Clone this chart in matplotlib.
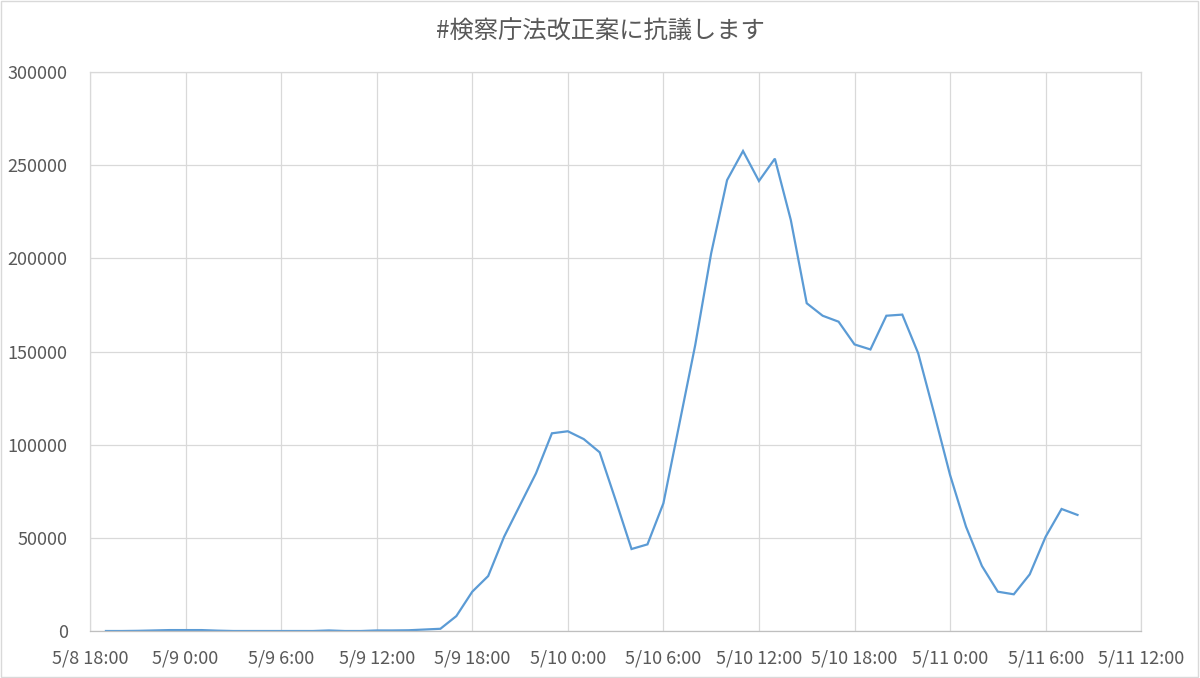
import pandas as pd
import matplotlib
matplotlib.use('Agg')
from matplotlib import pyplot as plt
import matplotlib.dates as mdates
from matplotlib.ticker import FuncFormatter, MultipleLocator
from matplotlib.patches import Rectangle

plt.rcParams['font.family'] = ['Noto Sans CJK JP', 'DejaVu Sans']

titulo = '#検察庁法改正案に抗議します'
inicio = '2020-05-08 19:00'
# hourly counts, 5/8 19:00 .. 5/11 8:00
valores = [0, 0, 100, 300, 500, 500, 500, 200, 0, 0, 0, 0,
           0, 0, 300, 0, 0, 300, 300, 400, 800, 1200, 8000, 21100,
           29500, 50600, 67600, 84600, 106100, 107200, 103000, 95900, 70300, 44000, 46500, 68500,
           111000, 153500, 202700, 242000, 257600, 241500, 253500, 220600, 175900, 169200, 166000, 153800,
           151100, 169200, 169800, 149000, 116800, 83700, 56000, 34900, 21100, 19700, 30400, 50600,
           65500, 62300]
fechas = pd.date_range(inicio, periods=len(valores), freq='h')
limite_x = [pd.Timestamp('2020-05-08 18:00'), pd.Timestamp('2020-05-11 12:00')]
limite_y = [0, 300000]

gris = '#595959'

fig = plt.figure(figsize=(12, 6.78), dpi=100)
ax = fig.add_axes([0.075, 0.0693, 0.876, 0.8245])

ax.plot(fechas, valores, color='#5B9BD5', linewidth=1.6, solid_joinstyle='miter')

ax.set_xlim(limite_x)
ax.set_ylim(limite_y)
ax.xaxis.set_major_locator(mdates.HourLocator(byhour=[0, 6, 12, 18]))

def etiqueta(x, pos):
  d = mdates.num2date(x)
  return '%d/%d %d:%02d' % (d.month, d.day, d.hour, d.minute)

ax.xaxis.set_major_formatter(FuncFormatter(etiqueta))
ax.yaxis.set_major_locator(MultipleLocator(50000))
ax.yaxis.set_major_formatter(FuncFormatter(lambda v, p: '%d' % v))

ax.grid(True, color='#D9D9D9', linewidth=0.9)
ax.set_axisbelow(True)
for lado in ['top', 'right', 'left']:
  ax.spines[lado].set_color('#D9D9D9')
  ax.spines[lado].set_linewidth(0.9)
ax.spines['bottom'].set_color('#BFBFBF')
ax.spines['bottom'].set_linewidth(0.9)
ax.tick_params(length=0, labelsize=13, colors=gris, pad=13)
ax.tick_params(axis='y', pad=16)

fig.text(0.5, 0.953, titulo, ha='center', va='center', fontsize=17.5, color=gris)
fig.patches.append(Rectangle((0.0005, 0.001), 0.998, 0.997, transform=fig.transFigure,
                             fill=False, edgecolor='#D9D9D9', linewidth=1))

fig.savefig('out.png', dpi=100, facecolor='white')
